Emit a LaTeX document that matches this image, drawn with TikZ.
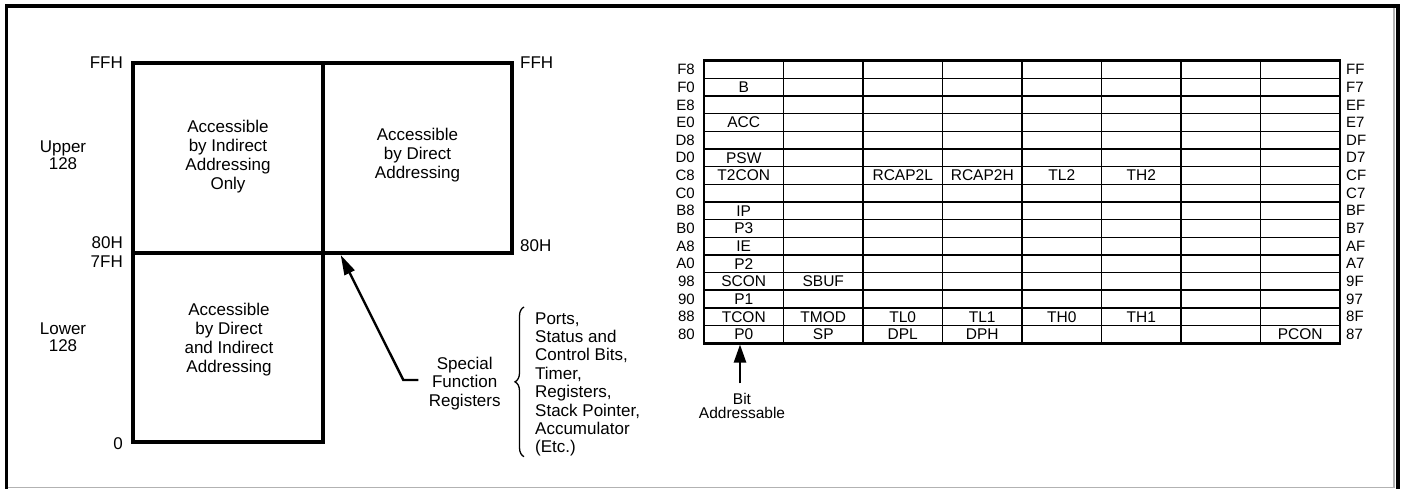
\documentclass[tikz,border=0pt]{standalone}
\usepackage{fontspec}
\setmainfont{Liberation Sans}
\usetikzlibrary{arrows.meta,decorations.pathreplacing}
\begin{document}
\begin{tikzpicture}[x=1pt,y=-1pt,
  lbl/.style={font=\fontsize{17}{19}\selectfont, inner sep=0pt, align=center},
  maplines/.style={line width=4pt},
  tline/.style={line width=1.6pt},
  tborder/.style={line width=2.6pt},
  cell/.style={font=\fontsize{15.5}{15.5}\selectfont, inner sep=0pt},
  rowlbl/.style={font=\fontsize{15}{15}\selectfont, inner sep=0pt},
  bigarrow/.style={line width=2.4pt, -{Triangle[length=20pt,width=11pt]}}
]
\useasboundingbox (0,0) rectangle (1404,489);
% frame
\draw[gray!60, line width=1.5pt] (7,487.5) -- (1394,487.5) -- (1394,7);
\draw[line width=3.5pt] (6.5,489) -- (6.5,6) -- (1398,6) -- (1398,489);

% memory map
\draw[maplines] (133,63) rectangle (512,252.7);
\draw[maplines] (133,252.7) rectangle (322.7,441.7);
\draw[maplines] (322.7,63) -- (322.7,252.7);

\node[lbl, anchor=east] (ffhL) at (123,63) {FFH};
\node[lbl, anchor=west] (ffhR) at (520,63) {FFH};
\node[lbl, anchor=east] (h80L) at (123,243) {80H};
\node[lbl, anchor=east] (h7fL) at (123,262) {7FH};
\node[lbl, anchor=west] (h80R) at (520,246) {80H};
\node[lbl, anchor=east] (zero) at (123,444) {0};

\node[lbl, font=\fontsize{17}{17}\selectfont] (upper) at (63,155) {Upper\\128};
\node[lbl, font=\fontsize{17}{17}\selectfont] (lower) at (63,337) {Lower\\128};

\node[lbl] (indir) at (228,157) {Accessible\\by Indirect\\Addressing\\Only};
\node[lbl] (dir) at (417.5,155) {Accessible\\by Direct\\Addressing};
\node[lbl] (both) at (229,340) {Accessible\\by Direct\\and Indirect\\Addressing};

% special function registers
\node[lbl, font=\fontsize{17}{18.3}\selectfont] (sfr) at (464.7,383.5) {Special\\Function\\Registers};
\coordinate (sfrfoot) at (418.3,380);
\coordinate (sfrelbow) at (403.3,380);
\coordinate (sfrtip) at (340.7,255);
\draw[bigarrow] (sfrfoot) -- (sfrelbow) -- (sfrtip);

\draw[line width=1.3pt, decorate, decoration={brace, amplitude=9pt}] (524,456.7) -- (524,307);
\node[lbl, anchor=north west, align=left, font=\fontsize{17}{18.4}\selectfont] (list) at (535,312.2)
  {Ports,\\Status and\\Control Bits,\\Timer,\\Registers,\\Stack Pointer,\\Accumulator\\(Etc.)};

% SFR table
\foreach \i in {1,...,15} \draw[tline] (704,{60.7+\i*17.66}) -- (1340,{60.7+\i*17.66});
\foreach \j in {1,...,7} \draw[tline] ({704+\j*79.5},60.7) -- ({704+\j*79.5},343.3);
\draw[tborder] (704,60.7) rectangle (1340,343.3);

\foreach \lab [count=\i from 0] in {F8,F0,E8,E0,D8,D0,C8,C0,B8,B0,A8,A0,98,90,88,80}
  \node[rowlbl, anchor=east] (L\i) at (695,{60.7+(\i+0.5)*17.66}) {\lab};
\foreach \lab [count=\i from 0] in {FF,F7,EF,E7,DF,D7,CF,C7,BF,B7,AF,A7,9F,97,8F,87}
  \node[rowlbl, anchor=west] (R\i) at (1346,{60.7+(\i+0.5)*17.66}) {\lab};

\foreach \r/\c/\t in {1/1/B, 3/1/ACC, 5/1/PSW, 6/1/T2CON, 6/3/RCAP2L, 6/4/RCAP2H, 6/5/TL2, 6/6/TH2,
  8/1/IP, 9/1/P3, 10/1/IE, 11/1/P2, 12/1/SCON, 12/2/SBUF, 13/1/P1,
  14/1/TCON, 14/2/TMOD, 14/3/TL0, 14/4/TL1, 14/5/TH0, 14/6/TH1,
  15/1/P0, 15/2/SP, 15/3/DPL, 15/4/DPH, 15/8/PCON}
  \node[cell] (c\r-\c) at ({704+(\c-0.5)*79.5},{60.7+(\r+0.5)*17.66}) {\t};

% bit addressable
\node[lbl, font=\fontsize{15.5}{14.5}\selectfont] (bit) at (742,406) {Bit\\Addressable};
\coordinate (bitfoot) at (740,383.3);
\coordinate (bittip) at (740,344.5);
\draw[bigarrow, -{Triangle[length=18pt,width=12pt]}] (bitfoot) -- (bittip);
\end{tikzpicture}
\end{document}
